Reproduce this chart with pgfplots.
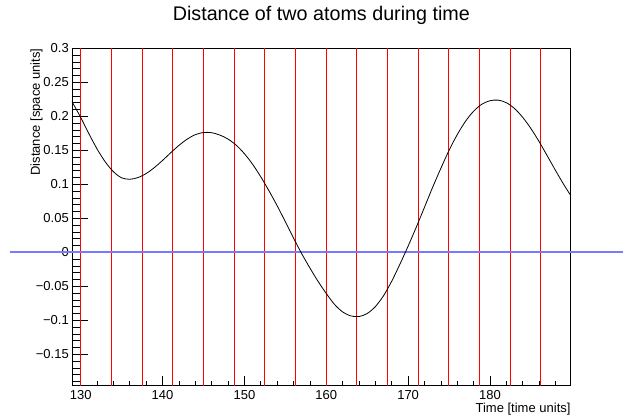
\documentclass[border=0pt]{standalone}
\usepackage{fontspec}
\setmainfont{Liberation Sans}
\usepackage{pgfplots}
\pgfplotsset{compat=1.18}
\definecolor{zeroline}{RGB}{122,122,255}
\newcommand{\ticklabelfont}{\fontsize{13.05}{15}\selectfont}
\begin{document}
\begin{tikzpicture}
\begin{axis}[
  scale only axis,
  width=498.7bp, height=337.5bp,
  xmin=128.94, xmax=189.86,
  ymin=-0.1963, ymax=0.3,
  clip=false,
  axis line style={line width=0.8pt},
  tick align=inside,
  xtick pos=bottom, ytick pos=left,
  xtick={130,140,150,160,170,180},
  xticklabels={130,140,150,160,170,180},
  minor xtick={130,132,...,188},
  ytick={-0.15,-0.1,-0.05,0,0.05,0.1,0.15,0.2,0.25,0.3},
  yticklabels={−0.15,−0.1,−0.05,0,0.05,0.1,0.15,0.2,0.25,0.3},
  minor ytick={-0.19,-0.18,...,0.295},
  xtick style={line width=0.7pt, black,
    /pgfplots/major tick length=10bp, /pgfplots/minor tick length=5bp},
  ytick style={line width=0.7pt, black,
    /pgfplots/major tick length=15.7bp, /pgfplots/minor tick length=8bp},
  ticklabel style={font=\ticklabelfont},
  xticklabel style={anchor=north, inner sep=0pt, yshift=-4.7bp},
  yticklabel style={anchor=east, inner sep=0pt, xshift=-3bp},
  title={Distance of two atoms during time},
  title style={at={(axis description cs:0.5,1.064)}, anchor=base,
    inner sep=0pt, font=\fontsize{19.8}{22}\selectfont},
  xlabel={Time [time units]},
  xlabel style={at={(axis description cs:1,-0.08)}, anchor=base east,
    inner sep=0pt, font=\ticklabelfont},
  ylabel={Distance [space units]},
  ylabel style={at={(axis description cs:-0.0642,1)},
    anchor=base east, inner sep=0pt, font=\ticklabelfont},
]
% sampling instants
\addplot[red, line width=1bp, unbounded coords=jump] coordinates {
  (130.00,-0.1963) (130.00,0.3) (130.00,nan)
  (133.75,-0.1963) (133.75,0.3) (133.75,nan)
  (137.50,-0.1963) (137.50,0.3) (137.50,nan)
  (141.24,-0.1963) (141.24,0.3) (141.24,nan)
  (144.99,-0.1963) (144.99,0.3) (144.99,nan)
  (148.74,-0.1963) (148.74,0.3) (148.74,nan)
  (152.49,-0.1963) (152.49,0.3) (152.49,nan)
  (156.24,-0.1963) (156.24,0.3) (156.24,nan)
  (159.98,-0.1963) (159.98,0.3) (159.98,nan)
  (163.73,-0.1963) (163.73,0.3) (163.73,nan)
  (167.48,-0.1963) (167.48,0.3) (167.48,nan)
  (171.23,-0.1963) (171.23,0.3) (171.23,nan)
  (174.98,-0.1963) (174.98,0.3) (174.98,nan)
  (178.72,-0.1963) (178.72,0.3) (178.72,nan)
  (182.47,-0.1963) (182.47,0.3) (182.47,nan)
  (186.22,-0.1963) (186.22,0.3)
};
% zero level
\addplot[zeroline, line width=2bp] coordinates {(121.36,0) (196.3,0)};
% distance between the two atoms
\addplot[black, line width=0.8pt, smooth] coordinates {
  (128.94,0.2215) (130,0.1985) (131,0.1745) (132,0.1520) (133,0.1330)
  (134,0.1185) (135,0.1095) (136,0.1074) (137,0.1099) (138,0.1158)
  (139,0.1246) (140,0.1351) (141,0.1464) (142,0.1572) (143,0.1663)
  (144,0.1730) (145,0.1762) (146,0.1759) (147,0.1724) (148,0.1665)
  (149,0.1575) (150,0.1450) (151,0.1295) (152,0.1110) (153,0.0905)
  (154,0.0685) (155,0.0450) (156,0.0210) (157,-0.0020) (158,-0.0230)
  (159,-0.0428) (160,-0.0605) (161,-0.0765) (162,-0.0877) (163,-0.0935)
  (164,-0.0945) (165,-0.0900) (166,-0.0798) (167,-0.0638) (168,-0.0424)
  (169,-0.0174) (170,0.0091) (171,0.0371) (172,0.0663) (173,0.0958)
  (174,0.1235) (175,0.1500) (176,0.1730) (177,0.1925) (178,0.2075)
  (179,0.2177) (180,0.2229) (181,0.2238) (182,0.2200) (183,0.2114)
  (184,0.1984) (185,0.1820) (186,0.1628) (187,0.1418) (188,0.1205)
  (189,0.0999) (189.86,0.0836)
};
\end{axis}
\pgfresetboundingbox
\path ([xshift=-72bp,yshift=-33.2bp]current axis.south west)
  rectangle ([xshift=52.3bp,yshift=48.3bp]current axis.north east);
\end{tikzpicture}
\end{document}
